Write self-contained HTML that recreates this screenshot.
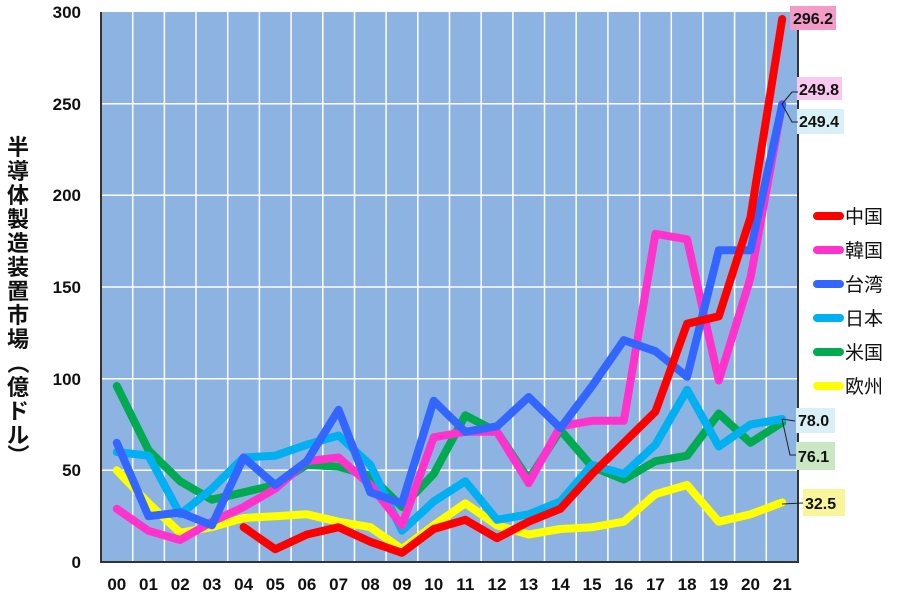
<!DOCTYPE html>
<html><head><meta charset="utf-8"><style>
body{margin:0;background:#fff;}
svg text{font-family:"Liberation Sans","Noto Sans CJK JP",sans-serif;}
</style></head><body>
<svg width="900" height="598" xmlns="http://www.w3.org/2000/svg">
<rect x="101" y="12" width="697" height="550" fill="#8DB3E2"/>
<g stroke="#fff" stroke-width="1.5">
<line x1="132.7" y1="12" x2="132.7" y2="562"/><line x1="164.4" y1="12" x2="164.4" y2="562"/><line x1="196" y1="12" x2="196" y2="562"/><line x1="227.7" y1="12" x2="227.7" y2="562"/><line x1="259.4" y1="12" x2="259.4" y2="562"/><line x1="291.1" y1="12" x2="291.1" y2="562"/><line x1="322.8" y1="12" x2="322.8" y2="562"/><line x1="354.5" y1="12" x2="354.5" y2="562"/><line x1="386.1" y1="12" x2="386.1" y2="562"/><line x1="417.8" y1="12" x2="417.8" y2="562"/><line x1="449.5" y1="12" x2="449.5" y2="562"/><line x1="481.2" y1="12" x2="481.2" y2="562"/><line x1="512.9" y1="12" x2="512.9" y2="562"/><line x1="544.5" y1="12" x2="544.5" y2="562"/><line x1="576.2" y1="12" x2="576.2" y2="562"/><line x1="607.9" y1="12" x2="607.9" y2="562"/><line x1="639.6" y1="12" x2="639.6" y2="562"/><line x1="671.3" y1="12" x2="671.3" y2="562"/><line x1="702.9" y1="12" x2="702.9" y2="562"/><line x1="734.6" y1="12" x2="734.6" y2="562"/><line x1="766.3" y1="12" x2="766.3" y2="562"/>
<line x1="101" y1="470.3" x2="798" y2="470.3"/><line x1="101" y1="378.7" x2="798" y2="378.7"/><line x1="101" y1="287" x2="798" y2="287"/><line x1="101" y1="195.3" x2="798" y2="195.3"/><line x1="101" y1="103.7" x2="798" y2="103.7"/>
</g>
<g fill="none" stroke-width="8" stroke-linejoin="round" stroke-linecap="round">
<polyline stroke="#00AA50" points="116.8,386 148.5,450.2 180.2,481.3 211.9,499.7 243.6,492.3 275.2,485 306.9,464.8 338.6,466.7 370.3,475.8 402,507 433.7,474 465.3,415.3 497,431.8 528.7,479.5 560.4,430 592.1,466.7 623.8,479.5 655.4,461.2 687.1,455.7 718.8,413.5 750.5,442.8 782.2,422.5"/>
<polyline stroke="#FFFF00" points="116.8,470.3 148.5,503.3 180.2,532.7 211.9,527.2 243.6,518 275.2,516.2 306.9,514.3 338.6,521.7 370.3,527.2 402,549.2 433.7,525.3 465.3,503.3 497,525.3 528.7,534.5 560.4,529 592.1,527.2 623.8,521.7 655.4,494.2 687.1,485 718.8,521.7 750.5,514.3 782.2,502.4"/>
<polyline stroke="#00B0F0" points="116.8,452 148.5,455.7 180.2,514.3 211.9,488.7 243.6,457.5 275.2,455.7 306.9,444.7 338.6,435.5 370.3,464.8 402,530.8 433.7,501.5 465.3,481.3 497,519.8 528.7,514.3 560.4,501.5 592.1,464.8 623.8,474 655.4,444.7 687.1,389.7 718.8,446.5 750.5,424.5 782.2,419"/>
<polyline stroke="#FF33CC" points="116.8,508.8 148.5,530.8 180.2,540 211.9,521.7 243.6,507 275.2,488.7 306.9,461.2 338.6,457.5 370.3,485 402,525.3 433.7,437.3 465.3,431.8 497,431.8 528.7,483.2 560.4,426.3 592.1,420.8 623.8,420.8 655.4,233.8 687.1,239.3 718.8,380.5 750.5,277.8 782.2,104"/>
<polyline stroke="#3366FF" points="116.8,442.8 148.5,516.2 180.2,512.5 211.9,525.3 243.6,457.5 275.2,485 306.9,461.2 338.6,409.8 370.3,492.3 402,503.3 433.7,400.7 465.3,431.8 497,426.3 528.7,397 560.4,428.2 592.1,386 623.8,340.2 655.4,351.2 687.1,376.8 718.8,250.3 750.5,250.3 782.2,104.8"/>
<polyline stroke="#FF0000" points="243.6,527.2 275.2,549.2 306.9,534.5 338.6,527.2 370.3,541.8 402,552.8 433.7,529 465.3,519.8 497,538.2 528.7,521.7 560.4,508.8 592.1,474 623.8,442.8 655.4,411.7 687.1,323.7 718.8,316.3 750.5,217.3 782.2,19"/>
</g>
<path d="M101 12 V562 H798 V12" fill="none" stroke="#333" stroke-width="2"/>
<g font-size="17" font-weight="bold" text-anchor="end" fill="#111">
<text x="81" y="18">300</text><text x="81" y="110">250</text><text x="81" y="201">200</text>
<text x="81" y="293">150</text><text x="81" y="385">100</text><text x="81" y="476">50</text><text x="81" y="568">0</text>
</g>
<g font-size="17" font-weight="bold" text-anchor="middle" fill="#111">
<text x="116.8" y="590">00</text><text x="148.5" y="590">01</text><text x="180.2" y="590">02</text><text x="211.9" y="590">03</text><text x="243.6" y="590">04</text><text x="275.2" y="590">05</text><text x="306.9" y="590">06</text><text x="338.6" y="590">07</text><text x="370.3" y="590">08</text><text x="402" y="590">09</text><text x="433.7" y="590">10</text><text x="465.3" y="590">11</text><text x="497" y="590">12</text><text x="528.7" y="590">13</text><text x="560.4" y="590">14</text><text x="592.1" y="590">15</text><text x="623.8" y="590">16</text><text x="655.4" y="590">17</text><text x="687.1" y="590">18</text><text x="718.8" y="590">19</text><text x="750.5" y="590">20</text><text x="782.2" y="590">21</text>
</g>
<g font-size="22" font-weight="bold" fill="#111" text-anchor="middle">
<text x="18" y="155">半</text><text x="18" y="179">導</text><text x="18" y="203">体</text><text x="18" y="227">製</text><text x="18" y="251">造</text><text x="18" y="275">装</text><text x="18" y="299">置</text><text x="18" y="323">市</text><text x="18" y="347">場</text>
<text x="18" y="371" transform="rotate(90 18 363)">（</text><text x="18" y="395">億</text><text x="18" y="419">ド</text><text x="18" y="443">ル</text><text x="18" y="463" transform="rotate(90 18 455)">）</text>
</g>
<g font-size="16" font-weight="bold" fill="#111">
<rect x="790" y="6" width="46" height="24" fill="#F39AC6"/><text x="793" y="24">296.2</text>
<rect x="797" y="77" width="45" height="23" fill="#F9C8EE"/><text x="799" y="95">249.8</text>
<rect x="797" y="109" width="47" height="25" fill="#D9F1F6"/><text x="799" y="127">249.4</text>
<rect x="796" y="408" width="39" height="25" fill="#D9F1F6"/><text x="798" y="426">78.0</text>
<rect x="796" y="442" width="39" height="28" fill="#C9E7C2"/><text x="798" y="462">76.1</text>
<rect x="803" y="489" width="42" height="27" fill="#F8F59A"/><text x="805" y="509">32.5</text>
</g>
<path d="M782 104 L792 92 L798 92 M782 104 L792 122 L798 122 M782 419 L795 421 M782 419 L790 455 L796 455 M782 504 L803 503" stroke="#222" fill="none" stroke-width="1"/>
<g font-size="19" fill="#111">
<line x1="817" y1="216" x2="840" y2="216" stroke="#FF0000" stroke-width="8" stroke-linecap="round"/><text x="845" y="223">中国</text>
<line x1="817" y1="250" x2="840" y2="250" stroke="#FF33CC" stroke-width="8" stroke-linecap="round"/><text x="845" y="257">韓国</text>
<line x1="817" y1="284" x2="840" y2="284" stroke="#3366FF" stroke-width="8" stroke-linecap="round"/><text x="845" y="291">台湾</text>
<line x1="817" y1="318" x2="840" y2="318" stroke="#00B0F0" stroke-width="8" stroke-linecap="round"/><text x="845" y="325">日本</text>
<line x1="817" y1="352" x2="840" y2="352" stroke="#00AA50" stroke-width="8" stroke-linecap="round"/><text x="845" y="359">米国</text>
<line x1="817" y1="386" x2="840" y2="386" stroke="#FFFF00" stroke-width="8" stroke-linecap="round"/><text x="845" y="393">欧州</text>
</g>
</svg>
</body></html>
